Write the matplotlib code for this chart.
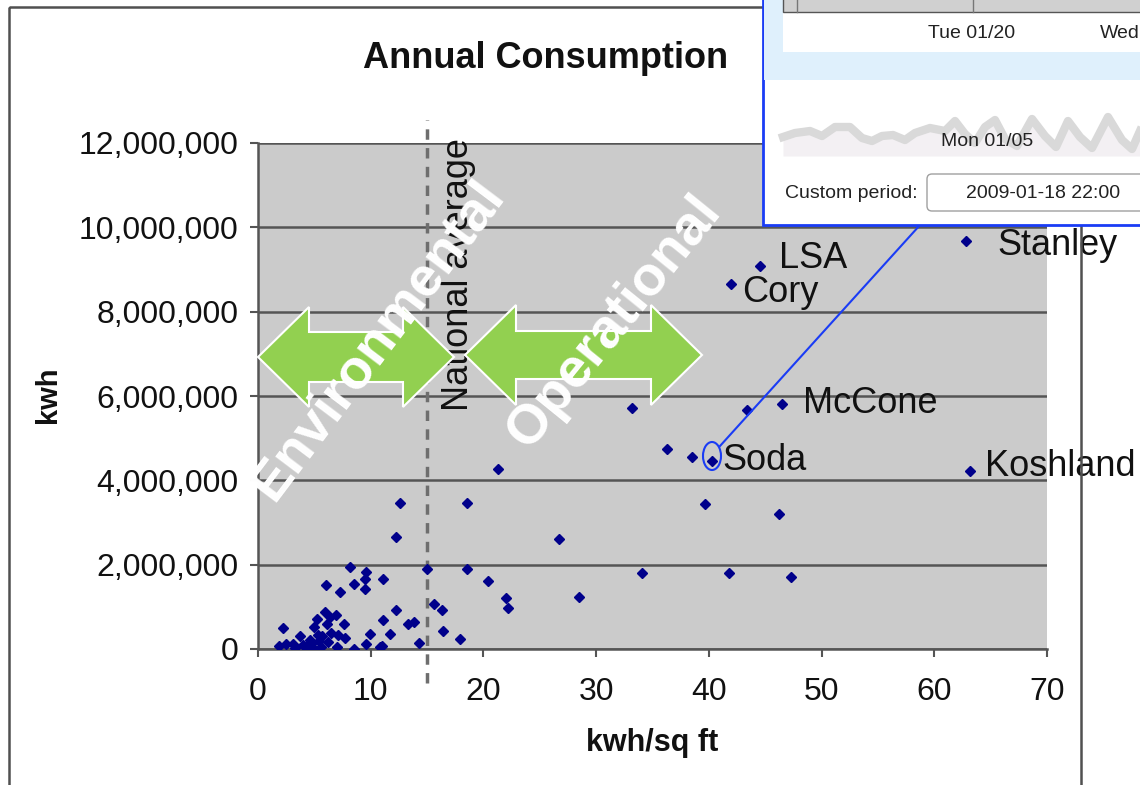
import matplotlib.pyplot as plt
from matplotlib.patches import Polygon, Ellipse, Rectangle, FancyBboxPatch
from matplotlib.ticker import FuncFormatter

plt.rcParams['font.family'] = ['Liberation Sans', 'DejaVu Sans']

# buildings that get a name label (kwh/sq ft, kwh in millions)
named = ['Stanley', 'LSA', 'Cory', 'McCone', 'Soda', 'Koshland']
named_x = [62.8, 44.5, 42.0, 46.5, 40.3, 63.2]
named_y = [9.67, 9.08, 8.66, 5.81, 4.46, 4.22]

# all the other buildings
other_x = [43.4, 33.2, 36.3, 38.5, 21.3, 39.7, 46.2, 18.5, 12.6, 12.2,
           26.7, 34.1, 41.8, 47.3, 28.5, 20.4, 22.0, 22.2, 18.5, 15.0,
           11.1, 15.6, 16.3, 12.2, 11.1, 13.3, 13.8, 16.4, 11.7, 17.9,
           14.3, 11.0, 8.2, 9.6, 9.5, 8.5, 9.5, 6.0, 7.3, 5.9,
           6.9, 6.4, 5.2, 7.6, 5.0, 2.2, 6.5, 7.1, 3.7, 7.7,
           4.6, 5.4, 9.9, 6.2, 3.1, 2.5, 1.9, 3.3, 4.3, 4.9,
           7.0, 8.5, 9.6, 10.8, 5.7, 4.0, 5.6, 6.1, 4.7, 5.3]
other_y = [5.67, 5.72, 4.74, 4.55, 4.27, 3.44, 3.20, 3.47, 3.47, 2.65,
           2.61, 1.80, 1.80, 1.71, 1.23, 1.61, 1.21, 0.97, 1.89, 1.89,
           1.65, 1.07, 0.92, 0.92, 0.69, 0.59, 0.63, 0.43, 0.36, 0.24,
           0.15, 0.08, 1.94, 1.83, 1.66, 1.54, 1.42, 1.51, 1.35, 0.88,
           0.81, 0.75, 0.70, 0.59, 0.53, 0.49, 0.39, 0.33, 0.31, 0.25,
           0.21, 0.20, 0.36, 0.17, 0.13, 0.13, 0.07, 0.02, 0.04, 0.02,
           0.04, 0.00, 0.13, 0.04, 0.30, 0.10, 0.05, 0.60, 0.12, 0.34]

national_avg = 15

# grey load trace in the pasted screenshot (pixel positions)
trace_x = [783, 795, 810, 822, 835, 850, 862, 872, 882, 893, 905, 915, 930, 945, 955, 965,
           975, 985, 995, 1005, 1017, 1032, 1045, 1056, 1068, 1080, 1092, 1108, 1122, 1132, 1140]
trace_y = [137, 133, 131, 136, 127, 127, 138, 141, 136, 135, 140, 133, 128, 131, 121, 134,
           143, 127, 120, 139, 146, 119, 136, 147, 121, 137, 148, 117, 140, 149, 131]

W, H = 1140, 785
fig = plt.figure(figsize=(W / 100, H / 100), dpi=100)
fig.patch.set_facecolor('white')

# ---- the Excel chart ----
ax = fig.add_axes([258 / W, 1 - 649 / H, (1047 - 258) / W, (649 - 143) / H])
ax.set_facecolor('#cbcbcb')
ax.plot(other_x, [v * 1e6 for v in other_y], 'D', color='#00008b', markersize=4.9, zorder=3)
ax.plot(named_x, [v * 1e6 for v in named_y], 'D', color='#00008b', markersize=4.9, zorder=3)

offsets = {'Stanley': (32, -14), 'LSA': (19, -2), 'Cory': (11, -18),
           'McCone': (21, -9), 'Soda': (10, -9), 'Koshland': (15, -5)}
for name, x, y in zip(named, named_x, named_y):
    ax.annotate(name, (x, y * 1e6), xytext=offsets[name], textcoords='offset pixels',
                ha='left', va='baseline', fontsize=26, color='#111111', zorder=4)

ax.axvline(national_avg, ymin=-0.067, ymax=1.045, clip_on=False, color='#6e6e6e',
           lw=2.5, ls=(0, (3, 2.4)), zorder=2)

ax.set_xlim(0, 70)
ax.set_ylim(0, 12000000)
ax.set_xticks(range(0, 71, 10))
ax.set_yticks(range(0, 12000001, 2000000))
ax.yaxis.set_major_formatter(FuncFormatter(lambda v, p: f"{int(v):,}"))
ax.grid(axis='y', color='#555555', lw=1.8)
ax.set_axisbelow(True)
for s in ['top', 'right']:
    ax.spines[s].set_visible(False)
for s in ['left', 'bottom']:
    ax.spines[s].set_color('#555555')
    ax.spines[s].set_linewidth(1.8)
ax.tick_params(labelsize=23, length=6, width=1.5, color='#555555', labelcolor='#111111')
ax.tick_params(axis='y', pad=8)
ax.tick_params(axis='x', pad=14)


def fx(x, y):
    return x / W, 1 - y / H


fig.text(*fx(546, 58), 'Annual Consumption', ha='center', va='center',
         fontsize=26, fontweight='bold', color='#111111')
fig.text(*fx(652, 743), 'kwh/sq ft', ha='center', va='center',
         fontsize=22, fontweight='bold', color='#111111')
fig.text(*fx(48, 395), 'kwh', ha='center', va='center', rotation=90,
         fontsize=21, fontweight='bold', color='#111111')

# ---- overlay drawn in pixel coordinates ----
ov = fig.add_axes([0, 0, 1, 1], zorder=10)
ov.set_xlim(0, W)
ov.set_ylim(H, 0)
ov.axis('off')

ov.add_patch(Rectangle((9, 7), 1072, 800, fill=False, ec='#505050', lw=1.8, zorder=1))

ov.text(458, 275, 'National average', rotation=90, ha='center', va='center',
        fontsize=26, color='#111111', zorder=2)


def double_arrow(x0, x1, yc, head, half_h, half_s):
    return Polygon([(x0, yc), (x0 + head, yc - half_h), (x0 + head, yc - half_s),
                    (x1 - head, yc - half_s), (x1 - head, yc - half_h), (x1, yc),
                    (x1 - head, yc + half_h), (x1 - head, yc + half_s),
                    (x0 + head, yc + half_s), (x0 + head, yc + half_h)],
                   closed=True, fc='#92d050', ec='white', lw=1.5, zorder=3)


ov.add_patch(double_arrow(258, 454, 357, 51, 50, 25))
ov.add_patch(double_arrow(465, 702, 355, 51, 50, 24))

ov.text(378, 340, 'Environmental', rotation=53, rotation_mode='anchor', ha='center',
        va='center', fontsize=40, fontweight='bold', color='white', zorder=4)
ov.text(614, 322, 'Operational', rotation=51, rotation_mode='anchor', ha='center',
        va='center', fontsize=40, fontweight='bold', color='white', zorder=4)

# callout from Soda to the screenshot
ov.add_patch(Ellipse((712, 456), 18, 28, fill=False, ec='#1a3cf5', lw=1.5, zorder=5))
ov.plot([720, 920], [446, 225], color='#1a3cf5', lw=1.5, zorder=5)

# pasted screenshot in the corner
ov.add_patch(Rectangle((763, -10), 400, 235, fc='white', ec='#1a3cf5', lw=2, zorder=6))
ov.add_patch(Rectangle((764, -10), 380, 90, fc='#dff0fc', ec='none', zorder=6))
ov.add_patch(Rectangle((783, -10), 360, 62, fc='white', ec='none', zorder=6))
ov.add_patch(Rectangle((783, -10), 360, 22, fc='#d0d0d0', ec='#555555', lw=1, zorder=6))
ov.plot([797, 797], [0, 12], color='#777777', lw=1, zorder=6)
ov.plot([973, 973], [0, 12], color='#777777', lw=1, zorder=6)
ov.text(972, 33, 'Tue 01/20', ha='center', va='center', fontsize=14, color='#222222', zorder=7)
ov.text(1100, 33, 'Wed', ha='left', va='center', fontsize=14, color='#222222', zorder=7)

ov.fill_between(trace_x, trace_y, 156, color='#f3f0f3', lw=0, zorder=6)
ov.plot(trace_x, trace_y, color='#d9d9d9', lw=6, solid_joinstyle='round', zorder=6)
ov.text(987, 142, 'Mon 01/05', ha='center', va='center', fontsize=14, color='#222222', zorder=7)

ov.text(785, 193, 'Custom period:', ha='left', va='center', fontsize=14, color='#222222', zorder=7)
ov.add_patch(FancyBboxPatch((927, 174), 240, 37, boxstyle='round,pad=0,rounding_size=5',
                            fc='white', ec='#a0a0a0', lw=1, zorder=7))
ov.text(1043, 193, '2009-01-18 22:00', ha='center', va='center', fontsize=14,
        color='#222222', zorder=8)

plt.savefig('out.png', dpi=100)
